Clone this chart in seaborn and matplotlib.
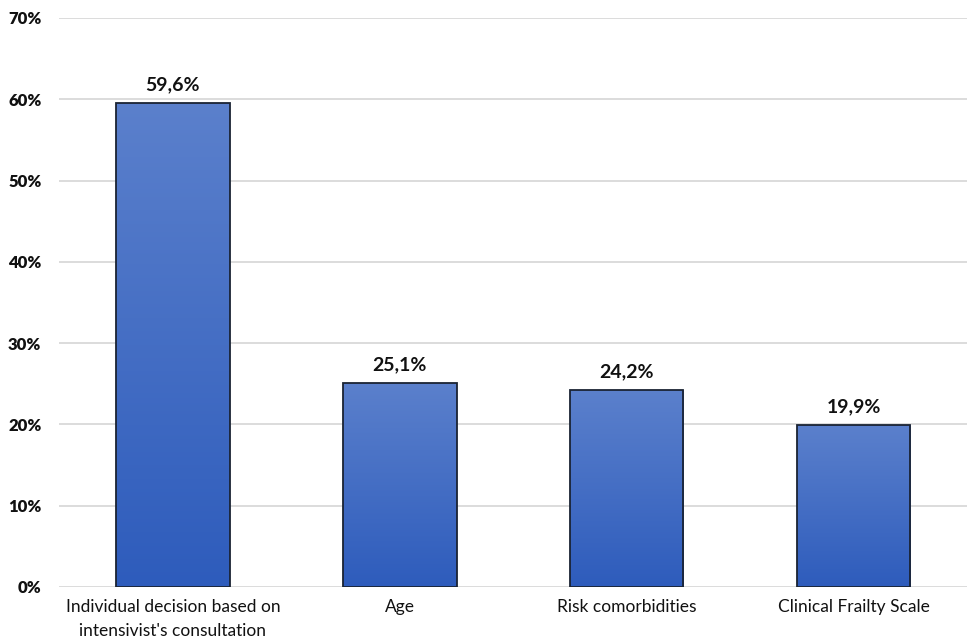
import numpy as np
import pandas as pd
import matplotlib
matplotlib.use("Agg")
import matplotlib.pyplot as plt
from matplotlib.colors import LinearSegmentedColormap
import seaborn as sns

categories = [
    "Individual decision based on\nintensivist's consultation",
    "Age",
    "Risk comorbidities",
    "Clinical Frailty Scale",
]
values = [59.6, 25.1, 24.2, 19.9]
value_labels = ["59,6%", "25,1%", "24,2%", "19,9%"]
y_ticks = [0, 10, 20, 30, 40, 50, 60, 70]

sns.set_theme(style="white")
plt.rcParams["font.family"] = ["Lato", "DejaVu Sans"]

df = pd.DataFrame({"category": categories, "value": values})

fig = plt.figure(figsize=(9.67, 6.42), dpi=100)
ax = fig.add_axes([0.0615, 0.0857, 0.9385, 0.8863])

sns.barplot(data=df, x="category", y="value", ax=ax, width=0.5,
            color="#4a70c6", edgecolor="#1a2333", linewidth=1.3,
            saturation=1, zorder=3)

# vertical gradient fill for each bar, clipped to the bar outline
grad_cmap = LinearSegmentedColormap.from_list("barblue", ["#2e5cbc", "#5b80cc"])
grad = np.linspace(0, 1, 256).reshape(-1, 1)
for patch in ax.patches:
    x0, y0 = patch.get_x(), patch.get_y()
    w, h = patch.get_width(), patch.get_height()
    im = ax.imshow(grad, cmap=grad_cmap, origin="lower", aspect="auto",
                   extent=[x0, x0 + w, y0, y0 + h], zorder=3.5)
    im.set_clip_path(patch)
    patch.set_facecolor("none")
    patch.set_zorder(4)

for patch, lab in zip(ax.patches, value_labels):
    ax.text(patch.get_x() + patch.get_width() / 2, patch.get_height() + 1.2,
            lab, ha="center", va="bottom", fontsize=14, fontweight="bold",
            color="#111111", zorder=5)

ax.set_xlim(-0.5, 3.5)
ax.set_ylim(0, 70)
ax.set_yticks(y_ticks)
ax.set_yticklabels([f"{t}%" for t in y_ticks], fontsize=12,
                   fontweight="heavy", color="#111111")
for lab in ax.get_xticklabels():
    lab.set_linespacing(1.55)
ax.tick_params(axis="x", labelsize=12.5, colors="#111111", length=0, pad=9)
ax.tick_params(axis="y", length=0, pad=13)
ax.yaxis.grid(True, color="#d6d6d6", linewidth=1.2, zorder=0)
ax.set_axisbelow(True)
ax.set_xlabel("")
ax.set_ylabel("")
for s in ax.spines.values():
    s.set_visible(False)

fig.savefig("out.png", dpi=100, facecolor="white")
